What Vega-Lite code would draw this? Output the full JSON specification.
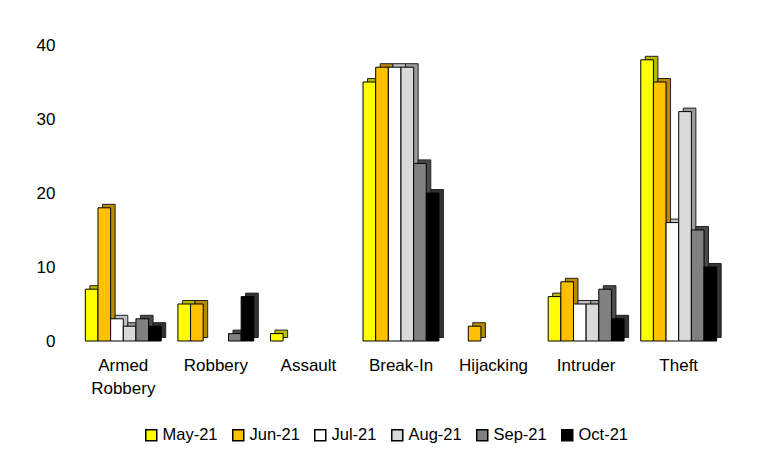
{
  "$schema": "https://vega.github.io/schema/vega-lite/v6.json",
  "width": 648,
  "height": 296,
  "autosize": {"type": "none"},
  "padding": {"left": 77, "top": 45, "right": 42, "bottom": 122},
  "background": "white",
  "config": {"view": {"stroke": null}, "font": "Liberation Sans"},
  "data": {
    "values": [
      {"category": "Armed Robbery", "month": "May-21", "value": 7},
      {"category": "Armed Robbery", "month": "Jun-21", "value": 18},
      {"category": "Armed Robbery", "month": "Jul-21", "value": 3},
      {"category": "Armed Robbery", "month": "Aug-21", "value": 2},
      {"category": "Armed Robbery", "month": "Sep-21", "value": 3},
      {"category": "Armed Robbery", "month": "Oct-21", "value": 2},
      {"category": "Robbery", "month": "May-21", "value": 5},
      {"category": "Robbery", "month": "Jun-21", "value": 5},
      {"category": "Robbery", "month": "Sep-21", "value": 1},
      {"category": "Robbery", "month": "Oct-21", "value": 6},
      {"category": "Assault", "month": "May-21", "value": 1},
      {"category": "Break-In", "month": "May-21", "value": 35},
      {"category": "Break-In", "month": "Jun-21", "value": 37},
      {"category": "Break-In", "month": "Jul-21", "value": 37},
      {"category": "Break-In", "month": "Aug-21", "value": 37},
      {"category": "Break-In", "month": "Sep-21", "value": 24},
      {"category": "Break-In", "month": "Oct-21", "value": 20},
      {"category": "Hijacking", "month": "Jun-21", "value": 2},
      {"category": "Intruder", "month": "May-21", "value": 6},
      {"category": "Intruder", "month": "Jun-21", "value": 8},
      {"category": "Intruder", "month": "Jul-21", "value": 5},
      {"category": "Intruder", "month": "Aug-21", "value": 5},
      {"category": "Intruder", "month": "Sep-21", "value": 7},
      {"category": "Intruder", "month": "Oct-21", "value": 3},
      {"category": "Theft", "month": "May-21", "value": 38},
      {"category": "Theft", "month": "Jun-21", "value": 35},
      {"category": "Theft", "month": "Jul-21", "value": 16},
      {"category": "Theft", "month": "Aug-21", "value": 31},
      {"category": "Theft", "month": "Sep-21", "value": 15},
      {"category": "Theft", "month": "Oct-21", "value": 10}
    ]
  },
  "encoding": {
    "x": {
      "field": "category",
      "type": "nominal",
      "sort": ["Armed Robbery", "Robbery", "Assault", "Break-In", "Hijacking", "Intruder", "Theft"],
      "scale": {"paddingInner": 0.18, "paddingOuter": 0.09},
      "axis": {
        "title": null,
        "labelAngle": 0,
        "domain": false,
        "ticks": false,
        "labelPadding": 16,
        "labelFontSize": 17,
        "labelColor": "#000",
        "labelExpr": "split(datum.label, ' ')",
        "labelLineHeight": 23
      }
    },
    "y": {
      "field": "value",
      "type": "quantitative",
      "scale": {"domain": [0, 40]},
      "axis": {
        "title": null,
        "values": [0, 10, 20, 30, 40],
        "grid": false,
        "domain": false,
        "ticks": false,
        "labelPadding": 22,
        "labelFontSize": 17,
        "labelColor": "#000"
      }
    }
  },
  "layer": [
    {
      "mark": {"type": "bar", "yOffset": -3.5, "stroke": "#222", "strokeWidth": 1},
      "encoding": {
        "xOffset": {
          "field": "month",
          "type": "nominal",
          "scale": {
            "domain": ["May-21", "Jun-21", "Jul-21", "Aug-21", "Sep-21", "Oct-21"],
            "range": [4.5, 80.4]
          }
        },
        "color": {
          "field": "month",
          "type": "nominal",
          "scale": {
            "domain": ["May-21", "Jun-21", "Jul-21", "Aug-21", "Sep-21", "Oct-21"],
            "range": ["#B8B800", "#B88A00", "#BFBFBF", "#9A9A9A", "#4A4A4A", "#333333"]
          },
          "legend": null
        }
      }
    },
    {
      "mark": {"type": "bar", "stroke": "#000", "strokeWidth": 1},
      "encoding": {
        "xOffset": {
          "field": "month",
          "type": "nominal",
          "scale": {
            "domain": ["May-21", "Jun-21", "Jul-21", "Aug-21", "Sep-21", "Oct-21"],
            "range": [0, 75.9]
          }
        },
        "color": {
          "field": "month",
          "type": "nominal",
          "scale": {
            "domain": ["May-21", "Jun-21", "Jul-21", "Aug-21", "Sep-21", "Oct-21"],
            "range": ["#FFFF00", "#FFC000", "#FFFFFF", "#D9D9D9", "#808080", "#000000"]
          },
          "legend": {
            "title": null,
            "orient": "none",
            "legendX": 66,
            "legendY": 382,
            "direction": "horizontal",
            "gridAlign": "none",
            "columnPadding": 11,
            "labelOffset": 3,
            "labelFontSize": 16.5,
            "labelColor": "#000",
            "symbolType": "square",
            "symbolSize": 121,
            "symbolStrokeColor": "#000",
            "symbolStrokeWidth": 1.5
          }
        }
      }
    }
  ],
  "resolve": {"scale": {"xOffset": "independent", "color": "independent"}, "legend": {"color": "independent"}}
}
